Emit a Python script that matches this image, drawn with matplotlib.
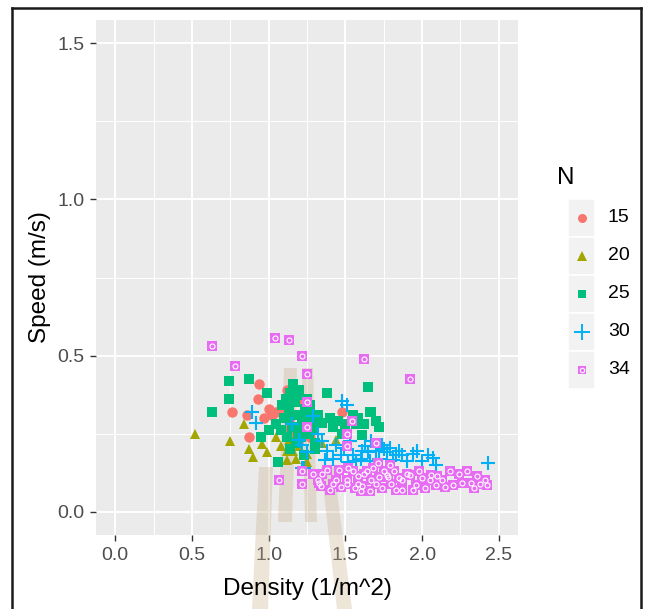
import matplotlib
matplotlib.use("Agg")
import matplotlib.pyplot as plt
from matplotlib.patches import Rectangle, Polygon
from matplotlib.lines import Line2D

plt.rcParams['font.family'] = ['Liberation Sans', 'DejaVu Sans']

# ---------------- data ----------------
groups = ["15", "20", "25", "30", "34"]
colors = ["#F8766D", "#A3A500", "#00BF7D", "#00B0F6", "#E76BF3"]

x15 = [0.94, 0.93, 0.76, 0.86, 1.00, 1.02, 0.875, 1.12, 1.14, 1.17, 1.16, 1.48, 1.17, 1.05,
       1.22, 1.27, 1.10, 1.08, 1.20, 1.25, 0.97, 1.13, 1.19]
y15 = [0.41, 0.36, 0.32, 0.31, 0.33, 0.31, 0.24, 0.39, 0.355, 0.39, 0.25, 0.32, 0.24, 0.32,
       0.27, 0.24, 0.26, 0.33, 0.36, 0.30, 0.30, 0.29, 0.22]

x20 = [0.52, 0.75, 0.875, 0.90, 0.99, 0.84, 0.96, 1.08, 1.12, 1.12, 1.13, 1.16, 1.25, 1.30,
       1.25, 1.44, 1.20, 1.35, 1.05, 1.18]
y20 = [0.25, 0.225, 0.20, 0.175, 0.19, 0.28, 0.215, 0.21, 0.195, 0.165, 0.23, 0.195, 0.183,
       0.205, 0.16, 0.23, 0.21, 0.22, 0.24, 0.17]

x25 = [0.74, 0.87, 0.99, 0.74, 0.63, 0.95, 1.00, 1.06, 1.09, 1.16, 1.12, 1.19, 1.27, 1.38,
       1.65, 1.35, 1.42, 1.57, 1.66, 1.72, 1.61, 1.67, 1.58, 1.10, 1.13, 1.15, 1.17, 1.20,
       1.22, 1.18, 1.24, 1.26, 1.28, 1.30, 1.12, 1.05, 1.08, 1.14, 1.25, 1.32, 1.40, 1.45,
       1.48, 1.50, 1.55, 1.62, 1.70, 1.20, 1.23, 1.30, 1.21, 1.11, 1.16, 1.19, 1.23, 1.27,
       1.14, 1.29]
y25 = [0.42, 0.425, 0.38, 0.36, 0.32, 0.24, 0.26, 0.16, 0.34, 0.41, 0.30, 0.375, 0.34, 0.38,
       0.40, 0.285, 0.27, 0.28, 0.32, 0.27, 0.245, 0.32, 0.30, 0.30, 0.33, 0.27, 0.35, 0.31,
       0.28, 0.22, 0.33, 0.25, 0.29, 0.22, 0.24, 0.28, 0.26, 0.20, 0.36, 0.31, 0.30, 0.29,
       0.25, 0.28, 0.31, 0.28, 0.29, 0.39, 0.18, 0.20, 0.24, 0.36, 0.31, 0.25, 0.30, 0.32,
       0.38, 0.26]

x30 = [0.89, 0.92, 1.48, 1.51, 1.35, 1.38, 1.44, 1.47, 1.49, 1.53, 1.55, 1.61, 1.63, 1.67,
       1.70, 1.74, 1.77, 1.79, 1.85, 1.22, 1.37, 1.57, 1.66, 1.81, 1.87, 1.94, 1.97, 2.00,
       2.04, 2.07, 2.09, 2.43, 1.90, 1.29, 1.22, 1.23, 1.15, 1.20, 1.32, 1.25, 1.42, 1.52,
       1.60, 1.72, 1.83, 1.65, 1.75]
y30 = [0.32, 0.285, 0.355, 0.34, 0.227, 0.195, 0.214, 0.18, 0.205, 0.227, 0.18, 0.195, 0.21,
       0.227, 0.195, 0.214, 0.19, 0.205, 0.195, 0.14, 0.166, 0.163, 0.163, 0.166, 0.18, 0.183,
       0.195, 0.163, 0.18, 0.173, 0.15, 0.155, 0.163, 0.307, 0.214, 0.14, 0.28, 0.23, 0.25,
       0.19, 0.17, 0.16, 0.17, 0.17, 0.18, 0.19, 0.20]

x34 = [0.63, 0.78, 1.04, 1.13, 1.22, 1.25, 1.62, 1.92, 1.07, 1.22, 1.22, 1.25, 1.25, 1.54,
       1.51, 1.51, 1.70, 1.33, 1.44, 1.32, 1.34, 1.38, 1.46, 1.51, 1.58, 1.61, 1.64, 1.67,
       1.71, 1.74, 1.77, 1.79, 1.83, 1.85, 1.66, 1.56, 1.87, 1.92, 1.96, 2.00, 2.05, 2.09,
       2.13, 2.18, 2.20, 2.26, 2.29, 2.32, 2.36, 2.41, 2.42, 1.87, 1.94, 2.06, 1.47, 1.55,
       1.62, 1.70, 1.75, 1.80, 1.90, 1.58, 1.68, 1.78, 1.35, 1.42, 1.52, 1.72, 1.29, 1.51,
       1.40, 1.60, 1.82, 2.02, 2.15, 2.24, 2.34, 2.38, 1.98, 2.10]
y34 = [0.53, 0.465, 0.555, 0.55, 0.50, 0.44, 0.49, 0.425, 0.10, 0.09, 0.13, 0.35, 0.27, 0.29,
       0.25, 0.21, 0.22, 0.093, 0.10, 0.10, 0.083, 0.134, 0.134, 0.10, 0.115, 0.083, 0.13, 0.10,
       0.157, 0.077, 0.118, 0.15, 0.07, 0.109, 0.067, 0.077, 0.10, 0.118, 0.086, 0.109, 0.10,
       0.086, 0.10, 0.13, 0.086, 0.093, 0.13, 0.093, 0.115, 0.10, 0.086, 0.07, 0.07, 0.118,
       0.08, 0.13, 0.12, 0.09, 0.13, 0.09, 0.12, 0.09, 0.14, 0.11, 0.12, 0.09, 0.14, 0.11,
       0.12, 0.09, 0.07, 0.065, 0.13, 0.075, 0.08, 0.12, 0.075, 0.09, 0.13, 0.115]

xticks = [0.0, 0.5, 1.0, 1.5, 2.0, 2.5]
yticks = [0.0, 0.5, 1.0, 1.5]

# ---------------- figure ----------------
W, H = 647, 609
fig = plt.figure(figsize=(W / 100, H / 100), dpi=100)
fig.patch.set_facecolor("white")

def fx(px):
    return px / W

def fy(py):
    return 1 - py / H

ax = fig.add_axes([fx(96), fy(535), fx(518) - fx(96), fy(20) - fy(535)])
ax.set_facecolor("#EBEBEB")
for s in ax.spines.values():
    s.set_visible(False)
ax.set_xlim(-0.125, 2.625)
ax.set_ylim(-0.075, 1.575)
ax.set_xticks(xticks)
ax.set_xticklabels([f"{v:.1f}" for v in xticks])
ax.set_yticks(yticks)
ax.set_yticklabels([f"{v:.1f}" for v in yticks])
ax.set_xticks([0.25, 0.75, 1.25, 1.75, 2.25], minor=True)
ax.set_yticks([0.25, 0.75, 1.25], minor=True)
ax.set_axisbelow(True)
ax.grid(which="major", color="white", linewidth=1.4)
ax.grid(which="minor", color="white", linewidth=0.7)
ax.tick_params(which="major", length=4.5, width=1.0, color="#333333",
               labelcolor="#4D4D4D", labelsize=14, pad=4)
ax.tick_params(which="minor", length=0)

# watermark-like overlay shapes (pixel coords)
shapes = [
    [(259, 467), (273, 467), (268, 609), (252, 609)],
    [(284, 368), (297, 368), (292, 522), (278, 522)],
    [(302, 368), (313, 368), (317, 522), (305, 522)],
    [(321, 467), (334, 467), (352, 609), (337, 609)],
]
for sh in shapes:
    pts = [(fx(a), fy(b)) for a, b in sh]
    ax.add_patch(Polygon(pts, closed=True, transform=fig.transFigure, clip_on=False,
                         facecolor="#C8B08A", edgecolor="none", alpha=0.33, zorder=1.5))

# data points
ax.plot(x15, y15, linestyle="none", marker="o", ms=7.5, color=colors[0], mew=0, zorder=3)
ax.plot(x20, y20, linestyle="none", marker="^", ms=7.5, color=colors[1], mew=0, zorder=3)
ax.plot(x25, y25, linestyle="none", marker="s", ms=7.0, color=colors[2], mew=0, zorder=3)
ax.plot(x30, y30, linestyle="none", marker="+", ms=10.5, color=colors[3], mew=1.5, zorder=3)
ax.plot(x34, y34, linestyle="none", marker="s", ms=7.2, color=colors[4], mew=0, zorder=3)
ax.plot(x34, y34, linestyle="none", marker="o", ms=3.6, markerfacecolor="none",
        markeredgecolor="white", mew=0.8, zorder=3.1)

# axis titles
fig.text(fx(307), fy(595), "Density (1/m^2)", ha="center", va="baseline",
         fontsize=17.5, color="black")
fig.text(fx(40), fy(277), "Speed (m/s)", ha="center", va="center", rotation=90,
         fontsize=17.5, color="black")

# legend (manual)
lax = fig.add_axes([fx(568), fy(389), fx(595) - fx(568), fy(199) - fy(389)])
lax.set_xlim(0, 1)
lax.set_ylim(5, 0)
lax.axis("off")
mk = [dict(marker="o", ms=6.5, mew=0), dict(marker="^", ms=6.5, mew=0),
      dict(marker="s", ms=6.0, mew=0), dict(marker="+", ms=11, mew=1.4),
      dict(marker="s", ms=6.2, mew=0)]
for i, g in enumerate(groups):
    lax.add_patch(Rectangle((0, i), 1, 1, facecolor="#F2F2F2", edgecolor="white", lw=1.2))
    lax.add_line(Line2D([0.5], [i + 0.5], linestyle="none", color=colors[i], **mk[i]))
    if i == 4:
        lax.add_line(Line2D([0.5], [i + 0.5], linestyle="none", marker="o", ms=3.2,
                            markerfacecolor="none", markeredgecolor="white", mew=0.8))
    lax.text(1.48, i + 0.5, g, ha="left", va="center", fontsize=14, color="black")
fig.text(fx(557), fy(178), "N", ha="left", va="center", fontsize=17.5, color="black")

# image frame
for (x0, y0, x1, y1) in [(12, 8, 12, 609), (12, 8, 641, 8), (641, 8, 641, 609)]:
    fig.add_artist(Line2D([fx(x0), fx(x1)], [fy(y0), fy(y1)], color="#1a1a1a", lw=1.8,
                          transform=fig.transFigure))

fig.savefig("out.png", dpi=100)
